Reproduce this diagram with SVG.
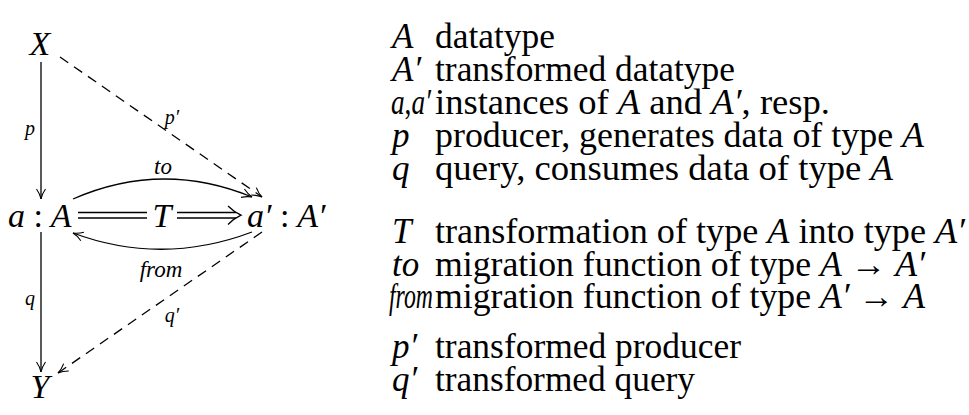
<svg xmlns="http://www.w3.org/2000/svg" width="969" height="415" viewBox="0 0 969 415">
<defs>
<marker id="arr" viewBox="0 0 12 12" refX="11" refY="6" markerWidth="12" markerHeight="12" markerUnits="userSpaceOnUse" orient="auto">
<path d="M1,1.5 Q6,5 11,6 Q6,7 1,10.5" fill="none" stroke="#000" stroke-width="1.1"/>
</marker>
</defs>
<style>
text{font-family:'Liberation Serif','Times New Roman',serif;fill:#000}
.m{font-style:italic}
.big{font-size:34px}
.lab{font-size:20px}
.lab2{font-size:23px}
.leg{font-size:35px}
.ln{stroke:#000;stroke-width:1.3;fill:none}
.dash{stroke-dasharray:10,7}
</style>
<rect width="969" height="415" fill="#fff"/>
<g id="connectors">
<line class="ln" x1="41" y1="62" x2="41" y2="199" marker-end="url(#arr)"/>
<line class="ln" x1="41" y1="232" x2="41" y2="372" marker-end="url(#arr)"/>
<line class="ln dash" x1="60" y1="57" x2="262" y2="197" marker-end="url(#arr)"/>
<line class="ln dash" x1="262" y1="232" x2="58" y2="373" marker-end="url(#arr)"/>
<path class="ln" d="M73,199 Q162,160 252,197" marker-end="url(#arr)"/>
<path class="ln" d="M252,232 Q162,266 73,233" marker-end="url(#arr)"/>
<line class="ln" x1="78" y1="212.5" x2="147" y2="212.5"/>
<line class="ln" x1="78" y1="218" x2="147" y2="218"/>
<line class="ln" x1="177" y1="212.5" x2="236" y2="212.5"/>
<line class="ln" x1="177" y1="218" x2="236" y2="218"/>
<path class="ln" d="M228,206 Q234,212 241,215.2 Q234,218.5 228,224.5"/>
<text class="m lab" x="30" y="135" text-anchor="middle">p</text>
<text class="m lab" x="172" y="124" text-anchor="middle">p′</text>
<text class="m lab2" x="163" y="174" text-anchor="middle">to</text>
<text class="m lab2" x="161" y="277" text-anchor="middle">from</text>
<text class="m lab" x="30" y="305" text-anchor="middle">q</text>
<text class="m lab" x="172" y="322" text-anchor="middle">q′</text>
</g>
<g id="node-X"><text class="m big" x="40" y="55" text-anchor="middle">X</text></g>
<g id="node-a"><text class="m big" x="8" y="227">a <tspan font-style="normal">:</tspan> A</text></g>
<g id="node-T"><text class="m big" x="162" y="227" text-anchor="middle">T</text></g>
<g id="node-a2"><text class="m big" x="247" y="227">a′ <tspan font-style="normal">:</tspan> A′</text></g>
<g id="node-Y"><text class="m big" x="40" y="398" text-anchor="middle">Y</text></g>
<g id="legend">
<text class="m leg" x="392" y="48">A</text><text class="leg" x="435" y="48" textLength="120" lengthAdjust="spacingAndGlyphs">datatype</text>
<text class="m leg" x="392" y="81">A′</text><text class="leg" x="435" y="81" textLength="300" lengthAdjust="spacingAndGlyphs">transformed datatype</text>
<text class="m leg" x="391" y="114" font-size="32" textLength="40" lengthAdjust="spacingAndGlyphs">a<tspan font-style="normal">,</tspan>a′</text><text class="leg" x="435" y="114" textLength="395" lengthAdjust="spacingAndGlyphs">instances of <tspan font-style="italic">A</tspan> and <tspan font-style="italic">A′</tspan>, resp.</text>
<text class="m leg" x="392" y="147">p</text><text class="leg" x="435" y="147" textLength="489" lengthAdjust="spacingAndGlyphs">producer, generates data of type <tspan font-style="italic">A</tspan></text>
<text class="m leg" x="392" y="180">q</text><text class="leg" x="435" y="180" textLength="458" lengthAdjust="spacingAndGlyphs">query, consumes data of type <tspan font-style="italic">A</tspan></text>
<text class="m leg" x="392" y="243">T</text><text class="leg" x="435" y="243" textLength="530" lengthAdjust="spacingAndGlyphs">transformation of type <tspan font-style="italic">A</tspan> into type <tspan font-style="italic">A′</tspan></text>
<text class="m leg" x="392" y="276">to</text><text class="leg" x="435" y="276" textLength="490" lengthAdjust="spacingAndGlyphs">migration function of type <tspan font-style="italic">A</tspan> → <tspan font-style="italic">A′</tspan></text>
<text class="m leg" x="389" y="308" font-size="32" textLength="44" lengthAdjust="spacingAndGlyphs">from</text><text class="leg" x="435" y="308" textLength="490" lengthAdjust="spacingAndGlyphs">migration function of type <tspan font-style="italic">A′</tspan> → <tspan font-style="italic">A</tspan></text>
<text class="m leg" x="392" y="358">p′</text><text class="leg" x="435" y="358" textLength="306" lengthAdjust="spacingAndGlyphs">transformed producer</text>
<text class="m leg" x="392" y="391">q′</text><text class="leg" x="435" y="391" textLength="260" lengthAdjust="spacingAndGlyphs">transformed query</text>
</g>
</svg>
